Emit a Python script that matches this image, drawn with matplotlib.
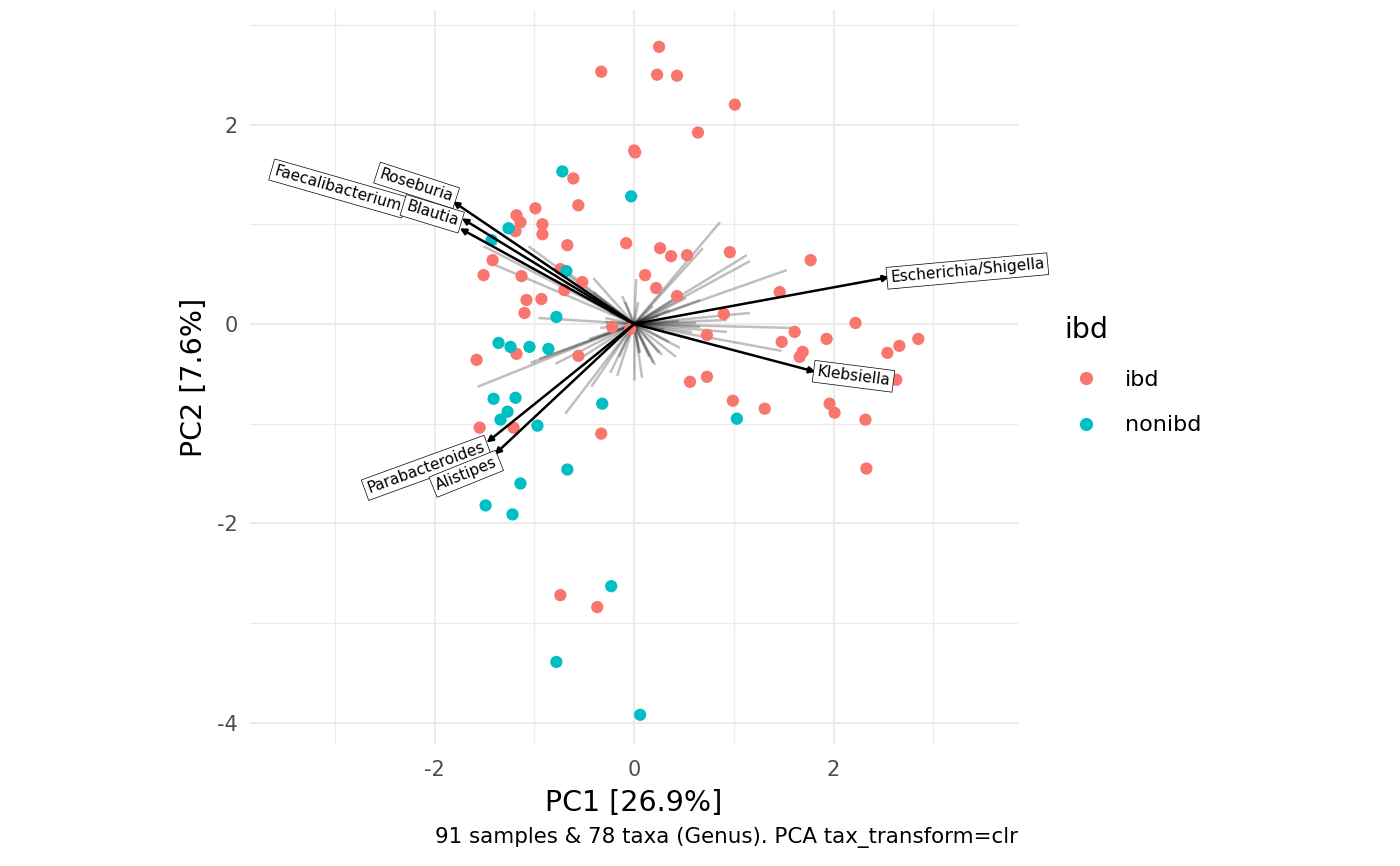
import matplotlib
matplotlib.use('Agg')
import matplotlib.pyplot as plt
from matplotlib.lines import Line2D
import numpy as np

plt.rcParams['axes.unicode_minus'] = False

# sample scores (PC1, PC2)
ibd_x = [0.25, -0.33, 0.23, 0.43, 1.01, 0.64, 0.00, 0.01, -0.61, -0.56, -0.99, -1.18, -1.14,
         -0.92, -1.19, -0.92, -0.08, -0.67, 0.26, 0.37, 0.53, 0.96, 1.77, -1.42, -0.74, 0.11,
         -1.13, -1.51, -0.52, -0.70, 0.22, 0.43, -1.08, -0.93, -1.10, 0.90, -0.22, -0.04, 0.73,
         1.46, 1.61, 1.48, 1.69, 1.66, 1.93, 2.22, 2.63, 2.66, 2.54, 2.85, 2.63, 0.56, 0.73,
         0.99, 1.31, 1.96, 2.01, 2.32, 2.33, -1.58, -1.18, -0.56, -1.55, -1.21, -0.33, -0.74, -0.37]
ibd_y = [2.78, 2.53, 2.50, 2.49, 2.20, 1.92, 1.74, 1.72, 1.46, 1.19, 1.16, 1.09, 1.02,
         1.00, 0.93, 0.90, 0.81, 0.79, 0.76, 0.68, 0.69, 0.72, 0.64, 0.64, 0.55, 0.49,
         0.48, 0.49, 0.42, 0.34, 0.36, 0.28, 0.24, 0.25, 0.11, 0.10, -0.03, -0.05, -0.11,
         0.32, -0.08, -0.18, -0.28, -0.33, -0.15, 0.01, 0.41, -0.22, -0.29, -0.15, -0.56, -0.58, -0.53,
         -0.77, -0.85, -0.80, -0.89, -0.96, -1.45, -0.36, -0.30, -0.32, -1.04, -1.04, -1.10, -2.72, -2.84]
non_x = [-0.72, -0.03, -1.26, -1.43, -0.68, -0.78, -1.36, -1.24, -1.05, -0.86, -1.41, -1.19,
         -1.27, -1.34, -0.97, -0.32, 1.03, -0.67, -1.14, -1.49, -1.22, -0.23, -0.78, 0.06]
non_y = [1.53, 1.28, 0.96, 0.84, 0.53, 0.07, -0.19, -0.23, -0.23, -0.25, -0.75, -0.74,
         -0.88, -0.96, -1.02, -0.80, -0.95, -1.46, -1.60, -1.82, -1.91, -2.63, -3.39, -3.92]

# highlighted taxa loadings
taxa = ['Escherichia/Shigella', 'Klebsiella', 'Faecalibacterium', 'Roseburia', 'Blautia',
        'Parabacteroides', 'Alistipes']
taxa_x = [2.56, 1.82, -1.75, -1.82, -1.73, -1.48, -1.40]
taxa_y = [0.47, -0.48, 0.96, 1.23, 1.06, -1.19, -1.31]

# remaining taxa loadings (grey lines)
other_x = [0.86, 0.69, 1.13, 1.16, 1.53, 1.16, 1.59, 1.48, 0.93, 0.00, 0.21, 0.46, 0.06, 0.28,
           0.66, 0.93, 0.66, 0.43, 0.19, -1.06, -1.44, -1.51, -0.41, -0.09, -0.96, -0.29, -1.57,
           -1.04, -0.79, -0.69, -0.43, -0.95, -0.17, 0.08, 0.19, -0.76, -0.41, 0.04, 0.02, -0.41,
           -0.29, -0.34, 0.05, 0.15, 0.25, 0.42, 0.35, -0.15, -0.24, 0.62, 0.58, 0.35, 0.52,
           0.45, 0.30, 0.55, 0.25, -0.25, -0.12, -0.45, -0.55]
other_y = [1.02, 0.76, 0.69, 0.63, 0.54, 0.11, -0.04, -0.27, -0.08, -0.56, -0.41, -0.24, -0.29, -0.31,
           -0.03, 0.04, 0.24, 0.27, 0.18, 0.78, 0.61, 0.78, 0.46, 0.22, 0.06, 0.06, -0.63,
           -0.39, -0.40, -0.90, -0.63, -0.35, -0.52, -0.54, -0.39, 0.59, 0.22, 0.22, 0.45, 0.32,
           0.02, -0.04, -0.29, -0.33, -0.29, -0.33, -0.18, -0.33, -0.49, 0.01, -0.08, 0.14, 0.26,
           0.03, -0.06, -0.14, 0.08, 0.12, 0.28, -0.15, -0.35]

RED = '#F8766D'
TEAL = '#00BFC4'
GRID = '#EBEBEB'

fig = plt.figure(figsize=(14, 8.66), dpi=100)
ax = fig.add_axes([250 / 1400, 1 - 745 / 866, 768 / 1400, 735 / 866])
ax.set_xlim(-3.853, 3.85)
ax.set_ylim(-4.223, 3.149)

for s in ax.spines.values():
    s.set_visible(False)
ax.set_xticks([-2, 0, 2])
ax.set_yticks([-4, -2, 0, 2])
ax.set_xticks([-3, -1, 1, 3], minor=True)
ax.set_yticks([-3, -1, 1, 3], minor=True)
ax.grid(which='major', color=GRID, lw=1.5, zorder=0)
ax.grid(which='minor', color=GRID, lw=0.9, zorder=0)
ax.set_axisbelow(True)
ax.tick_params(which='both', length=0)
ax.tick_params(axis='x', labelsize=15, labelcolor='#4D4D4D', pad=11)
ax.tick_params(axis='y', labelsize=15, labelcolor='#4D4D4D', pad=9)

# grey loadings
for x, y in zip(other_x, other_y):
    ax.plot([0, x], [0, y], color='black', alpha=0.25, lw=1.8, solid_capstyle='butt', zorder=2)

ax.scatter(ibd_x, ibd_y, s=78, color=RED, edgecolors='none', zorder=3)
ax.scatter(non_x, non_y, s=78, color=TEAL, edgecolors='none', zorder=3)

for x, y in zip(taxa_x, taxa_y):
    ax.annotate('', xy=(x, y), xytext=(0, 0),
                arrowprops=dict(arrowstyle='-|>', color='black', lw=1.8,
                                mutation_scale=9, shrinkA=0, shrinkB=0),
                zorder=4)

# label placement
lab_x = [2.57, 1.834, -2.335, -1.817, -1.767, -1.50, -1.382]
lab_y = [0.461, -0.478, 1.177, 1.271, 1.026, -1.231, -1.381]
lab_rot = [5.2, -7.3, -16, -18, -17, 20, 22]
lab_ha = ['left', 'left', 'right', 'right', 'right', 'right', 'right']
for name, x, y, r, ha in zip(taxa, lab_x, lab_y, lab_rot, lab_ha):
    ax.text(x, y, name, fontsize=11.1, rotation=r, rotation_mode='anchor',
            ha=ha, va='center', zorder=5, clip_on=False,
            bbox=dict(boxstyle='square,pad=0.22', fc='white', ec='black', lw=0.5))

ax.set_xlabel('PC1 [26.9%]', fontsize=20.5, labelpad=6)
ax.set_ylabel('PC2 [7.6%]', fontsize=20.5, labelpad=6)

fig.text(1018 / 1400, 1 - 838 / 866, '91 samples & 78 taxa (Genus). PCA tax_transform=clr',
         fontsize=15.4, ha='right', va='center')

# legend
fig.text(1064 / 1400, 1 - 330 / 866, 'ibd', fontsize=20.5, ha='left', va='center')
handles = [Line2D([], [], marker='o', ls='none', color=RED, markersize=9.5, markeredgewidth=0),
           Line2D([], [], marker='o', ls='none', color=TEAL, markersize=9.5, markeredgewidth=0)]
fig.legend(handles, ['ibd', 'nonibd'], loc='center left',
           bbox_to_anchor=(1075 / 1400, 1 - 402.5 / 866), frameon=False, fontsize=16,
           handlelength=1.0, handletextpad=1.25, labelspacing=1.15, borderpad=0, borderaxespad=0)

fig.savefig('out.png', dpi=100)
